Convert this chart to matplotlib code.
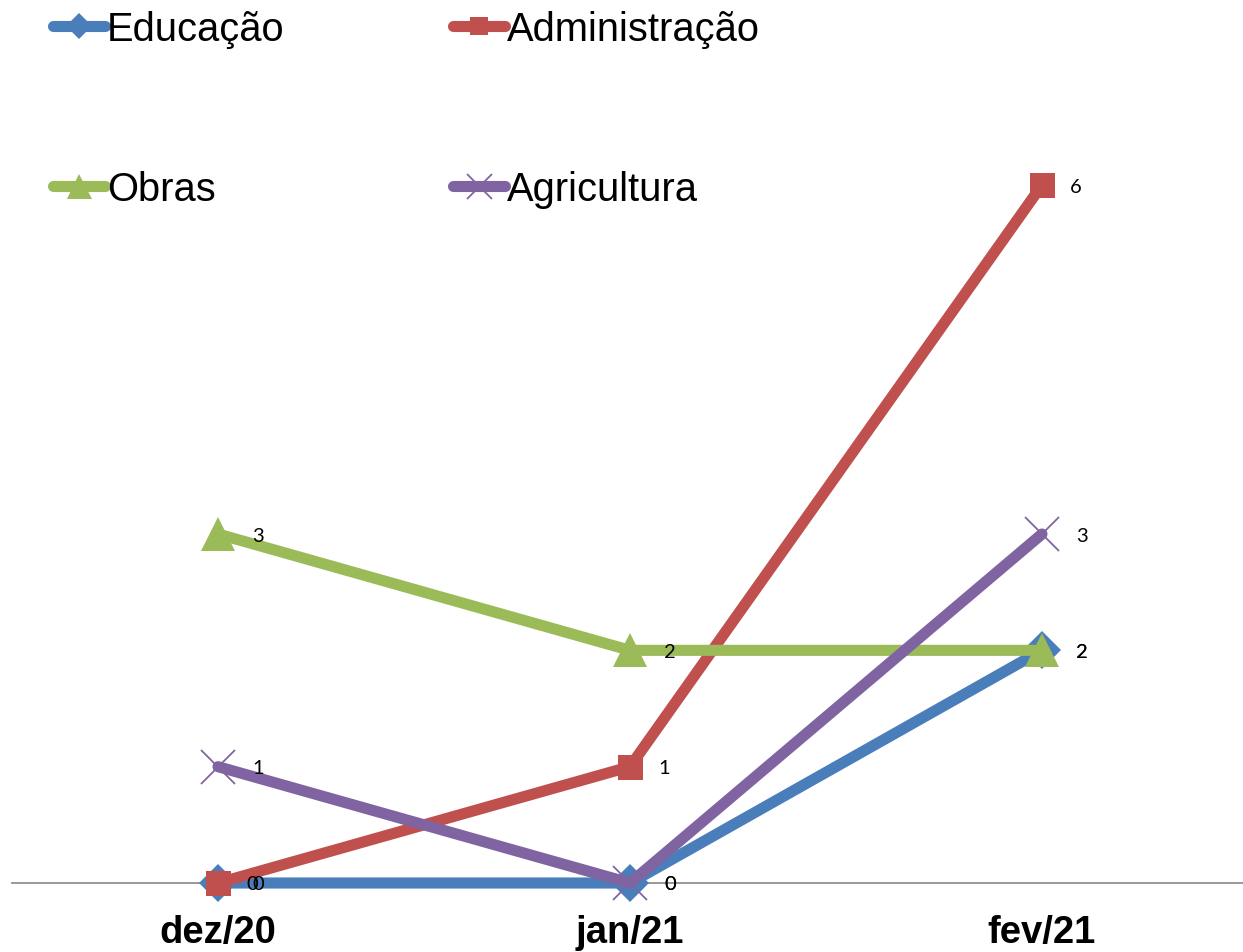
import matplotlib
matplotlib.use("Agg")
import matplotlib.pyplot as plt
from matplotlib.lines import Line2D

# Monthly counts per department
months = ["dez/20", "jan/21", "fev/21"]
educacao = [0, 0, 2]
administracao = [0, 1, 6]
obras = [3, 2, 2]
agricultura = [1, 0, 3]

series = [
    ("Educação", educacao, "#4A7EBB", "D", 19, 40),
    ("Administração", administracao, "#C0504D", "s", 18, 34),
    ("Obras", obras, "#9BBB59", "^", 25, 40),
    ("Agricultura", agricultura, "#8064A2", "x", 25, 40),
]

W, H = 1243, 953
fig = plt.figure(figsize=(W / 100, H / 100), dpi=100)
ax = fig.add_axes([12 / W, 69 / H, 1236 / W, 814.3 / H])

x = list(range(len(months)))
handles = {}
for name, vals, color, marker, ms, off in series:
    kw = dict(marker=marker, markersize=ms, color=color, linewidth=8,
              solid_capstyle="round", solid_joinstyle="round", clip_on=False)
    if marker == "x":
        kw.update(markeredgewidth=1.3)
    else:
        kw.update(markeredgewidth=0, markerfacecolor=color)
    ax.plot(x, vals, **kw)
    # legend handle with slightly smaller marker
    hkw = dict(kw)
    hkw["markersize"] = ms * 0.72
    hkw.pop("clip_on")
    handles[name] = Line2D([], [], **hkw)

# data labels on top of every line
for name, vals, color, marker, ms, off in series:
    for xi, v in zip(x, vals):
        ax.annotate(str(v), (xi, v), xytext=(off, -1), textcoords="offset pixels",
                    ha="center", va="center", fontsize=14.5, family="Lato",
                    color="black", zorder=10, annotation_clip=False)

ax.set_xlim(-0.5, 2.5)
ax.set_ylim(0, 7)
ax.set_xticks(x)
ax.set_xticklabels(months, fontsize=27.5, fontweight="bold", family="Liberation Sans")
ax.tick_params(axis="x", length=0, pad=22)
ax.set_yticks([])
for s in ("left", "right", "top"):
    ax.spines[s].set_visible(False)
ax.spines["bottom"].set_color("#868686")
ax.spines["bottom"].set_linewidth(1.2)
ax.spines["bottom"].set_zorder(0)

order = ["Educação", "Obras", "Administração", "Agricultura"]
fig.legend([handles[n] for n in order], order, loc="upper left",
           bbox_to_anchor=(53 / W, 1 - 11 / H), ncol=2, frameon=False,
           prop={"family": "Liberation Sans", "size": 28.7},
           handlelength=1.3, handletextpad=0.05, columnspacing=4.23,
           labelspacing=3.07, borderpad=0, borderaxespad=0)

fig.savefig("out.png", dpi=100)
